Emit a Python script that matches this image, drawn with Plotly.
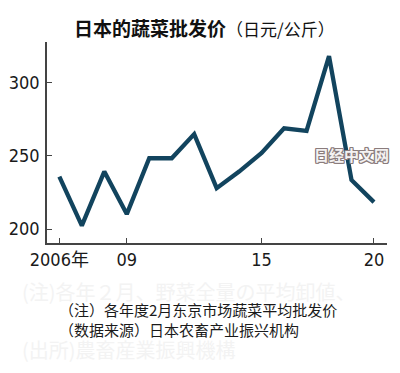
import plotly.graph_objects as go

years = list(range(2006, 2021))
prices = [235.8, 202.4, 239.2, 210.2, 248.3, 248.3, 264.8, 227.9, 239.2, 252.0,
          268.7, 267.0, 318.0, 233.5, 218.4]
tick_years = [2006, 2009, 2015, 2020]
tick_text = ["2006年", "09", "15", "20"]
y_ticks = [200, 250, 300]

title_main = "日本的蔬菜批发价"
title_unit = "（日元/公斤）"
note1 = "（注）各年度2月东京市场蔬菜平均批发价"
note2 = "（数据来源）日本农畜产业振兴机构"
ghost1 = "(注)各年２月、野菜全量の平均卸値、"
ghost2 = "(出所)農畜産業振興機構"
watermark = "日经中文网"

# page body has an 8px margin; work in page coordinates and offset
OFF = 8
W, H = 384, 357
# plot area in page coords: x 46.7..387, y 41.7..243.3
L = 46.7 - OFF
T = 41.7 - OFF
R = W - (387 - OFF)
B = H - (243.3 - OFF)
ph = H - T - B
pw = W - L - R

def py(p):
    return (H - B - (p - OFF)) / ph

def px(p):
    return ((p - OFF) - L) / pw

fig = go.Figure()
fig.add_trace(go.Scatter(
    x=years, y=prices, mode="lines",
    line=dict(color="#12445e", width=4.3),
    hoverinfo="skip", showlegend=False,
))

tick_font = dict(family="DejaVu Sans Condensed, Noto Sans CJK SC", size=18, color="#1a1a1a")
axis_common = dict(
    showline=True, linecolor="#444444", linewidth=1.5, mirror=False,
    ticks="inside", ticklen=5, tickwidth=1.2, tickcolor="#444444",
    showgrid=False, zeroline=False, tickfont=tick_font, automargin=False,
)
fig.update_xaxes(range=[2005.45, 2020.58], tickmode="array", tickvals=tick_years,
                 ticktext=tick_text, ticklabelstandoff=0, **axis_common)
fig.update_yaxes(range=[190.5, 327.6], tickmode="array", tickvals=y_ticks,
                 ticklabelstandoff=2, **axis_common)

anns = []
# ghost background text
anns.append(dict(text=ghost1, x=px(20), y=py(292), xanchor="left", yanchor="middle",
                 font=dict(family="Noto Sans CJK JP", size=20, color="#f3f3f3")))
anns.append(dict(text=ghost2, x=px(20), y=py(350), xanchor="left", yanchor="middle",
                 font=dict(family="Noto Sans CJK JP", size=20, color="#f3f3f3")))
# title
anns.append(dict(
    text="<b>" + title_main + "</b><span style='font-size:17px;font-weight:normal'>" + title_unit + "</span>",
    x=px(72), y=py(27), xanchor="left", yanchor="middle",
    font=dict(family="Noto Sans CJK SC", size=19, color="#111111")))
# notes
anns.append(dict(text=note1, x=px(57), y=py(310), xanchor="left", yanchor="middle",
                 font=dict(family="Noto Sans CJK SC", size=15, color="#1a1a1a")))
anns.append(dict(text=note2, x=px(57), y=py(330), xanchor="left", yanchor="middle",
                 font=dict(family="Noto Sans CJK SC", size=15, color="#1a1a1a")))
# watermark
sh = "#8a7c7c"
anns.append(dict(text="<b>" + watermark + "</b>", x=px(312), y=py(155), xanchor="left", yanchor="middle",
                 font=dict(family="Noto Sans CJK SC", size=15, color="#f4f2f2",
                           shadow=f"1px 1px 0 {sh}, -1px -1px 0 {sh}, 1px -1px 0 {sh}, -1px 1px 0 {sh}, 0 1px 0 {sh}, 0 -1px 0 {sh}, 1px 0 0 {sh}, -1px 0 0 {sh}")))

for a in anns:
    a.update(xref="paper", yref="paper", showarrow=False)

fig.update_layout(
    width=W, height=H,
    margin=dict(l=L, r=R, t=T, b=B, pad=0, autoexpand=False),
    paper_bgcolor="white", plot_bgcolor="rgba(0,0,0,0)",
    annotations=anns,
)

fig.write_html("out.html", config={"displayModeBar": False})
